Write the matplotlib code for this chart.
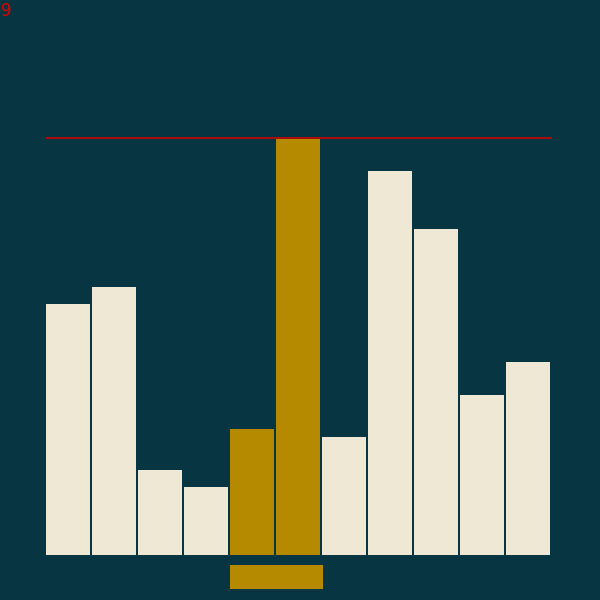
import matplotlib
matplotlib.use("Agg")
import matplotlib.pyplot as plt

values = [60.3, 64.3, 20.4, 16.3, 30.3, 100, 28.3, 92.2, 78.3, 38.4, 46.3]
highlight = [4, 5]
step_label = "9"
threshold = 100
range_start, range_end = 4, 5

bg = "#073642"
cream = "#eee8d5"
gold = "#b58900"
red = "#e00000"

scale = 4.165
fig = plt.figure(figsize=(6, 6), dpi=100, facecolor=bg)
ax = fig.add_axes([0, 0, 1, 1])
ax.set_facecolor(bg)
ax.set_xlim(-68 / 46, (600 - 68) / 46)
ax.set_ylim(-45 / scale, (600 - 45) / scale)
ax.axis("off")

colors = [gold if i in highlight else cream for i in range(len(values))]
ax.bar(range(len(values)), values, width=44 / 46, color=colors, linewidth=0, zorder=2)

ax.hlines(threshold + 0.12, -0.478, len(values) - 0.478, color=red, linewidth=1.1, zorder=3)

left = range_start - 0.5 + 0.022
right = range_end + 0.5 + 0.045
ax.bar(left, -5.8, bottom=-2.4, width=right - left, align="edge", color=gold, linewidth=0)

fig.text(0.001, 0.996, step_label, color=red, fontsize=12, ha="left", va="top")

fig.savefig("out.png", dpi=100, facecolor=bg)
